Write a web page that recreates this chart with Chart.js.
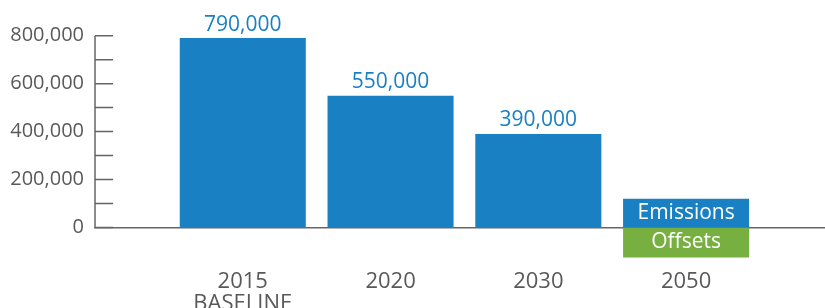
<!DOCTYPE html>
<html>
<head>
<meta charset="utf-8">
<title>Emissions and offsets</title>
<script src="https://cdn.jsdelivr.net/npm/chart.js@4/dist/chart.umd.min.js"></script>
<style>
  html, body { margin: 0; padding: 0; background: #fff; }
  #wrap { width: 825px; height: 308px; }
</style>
</head>
<body>
<div id="wrap"><canvas id="chart" width="825" height="308"></canvas></div>
<script>
// Data
const categories = [['2015', 'BASELINE'], '2020', '2030', '2050'];
const seriesNames = ['Emissions', 'Offsets'];
const emissions = [790000, 550000, 390000, 120000];
const offsets = [null, null, null, -125000];
const yTicks = [0, 100000, 200000, 300000, 400000, 500000, 600000, 700000, 800000];
const yLabelTicks = [0, 200000, 400000, 600000, 800000];

const BLUE = '#1a80c4';
const GREEN = '#77b041';
const GREY = '#595959';
const AXIS = '#666666';
const FONT = '"Open Sans", "DejaVu Sans", sans-serif';

const fmt = v => v.toLocaleString('en-US');

// y axis line plus inward tick marks, value labels and in-bar labels
const annotate = {
  id: 'annotate',
  afterDatasetsDraw(chart) {
    const { ctx } = chart;
    const y = chart.scales.y;
    const left = chart.chartArea.left;
    const top = y.getPixelForValue(yTicks[yTicks.length - 1]);
    const zero = y.getPixelForValue(yTicks[0]);

    ctx.save();
    ctx.strokeStyle = AXIS;
    ctx.lineWidth = 1.5;
    ctx.beginPath();
    ctx.moveTo(left, top);
    ctx.lineTo(left, zero);
    y.ticks.forEach(t => {
      const py = y.getPixelForValue(t.value);
      ctx.moveTo(left, py);
      ctx.lineTo(left + 18, py);
    });
    ctx.stroke();

    const m0 = chart.getDatasetMeta(0);
    const m1 = chart.getDatasetMeta(1);
    ctx.textAlign = 'center';
    emissions.forEach((v, i) => {
      const bar = m0.data[i];
      if (offsets[i] == null) {
        ctx.fillStyle = BLUE;
        ctx.font = '21px ' + FONT;
        ctx.textBaseline = 'bottom';
        ctx.fillText(fmt(v), bar.x, bar.y - 3);
      } else {
        ctx.fillStyle = '#ffffff';
        ctx.font = '21px ' + FONT;
        ctx.textBaseline = 'middle';
        ctx.fillText(seriesNames[0], bar.x, (bar.y + bar.base) / 2);
        const ob = m1.data[i];
        ctx.fillText(seriesNames[1], ob.x, (ob.y + ob.base) / 2);
      }
    });
    ctx.restore();
  }
};

new Chart(document.getElementById('chart'), {
  type: 'bar',
  data: {
    datasets: [
      {
        label: seriesNames[0],
        data: emissions.map((v, i) => ({ x: i + 1, y: v })),
        backgroundColor: BLUE
      },
      {
        label: seriesNames[1],
        data: offsets.map((v, i) => ({ x: i + 1, y: v })),
        backgroundColor: GREEN
      }
    ]
  },
  options: {
    responsive: false,
    animation: false,
    devicePixelRatio: 1,
    categoryPercentage: 1,
    barPercentage: 0.853,
    layout: { padding: { top: 1, bottom: 0, left: 0, right: 0 } },
    plugins: {
      legend: { display: false },
      tooltip: { enabled: false }
    },
    scales: {
      x: {
        type: 'linear',
        stacked: true,
        offset: false,
        position: { y: 0 },
        min: 0,
        max: 4.94,
        afterBuildTicks: axis => {
          axis.ticks = categories.map((_, i) => ({ value: i + 1 }));
        },
        grid: { display: false, drawTicks: false },
        border: { display: true, color: AXIS, width: 1.5 },
        ticks: {
          autoSkip: false,
          maxRotation: 0,
          padding: 43,
          color: GREY,
          font: { family: FONT, size: 22, lineHeight: 1.0 },
          callback: v => categories[Math.round(v) - 1] ?? ''
        }
      },
      y: {
        stacked: true,
        min: -240000,
        max: 853000,
        afterBuildTicks: axis => {
          axis.ticks = yTicks.map(v => ({ value: v }));
        },
        afterFit: axis => { axis.width = 95; },
        grid: { display: false, drawTicks: false },
        border: { display: false },
        ticks: {
          autoSkip: false,
          padding: 11,
          color: GREY,
          font: { family: FONT, size: 20 },
          callback: v => yLabelTicks.includes(v) ? fmt(v) : ''
        }
      }
    }
  },
  plugins: [annotate]
});
</script>
</body>
</html>
